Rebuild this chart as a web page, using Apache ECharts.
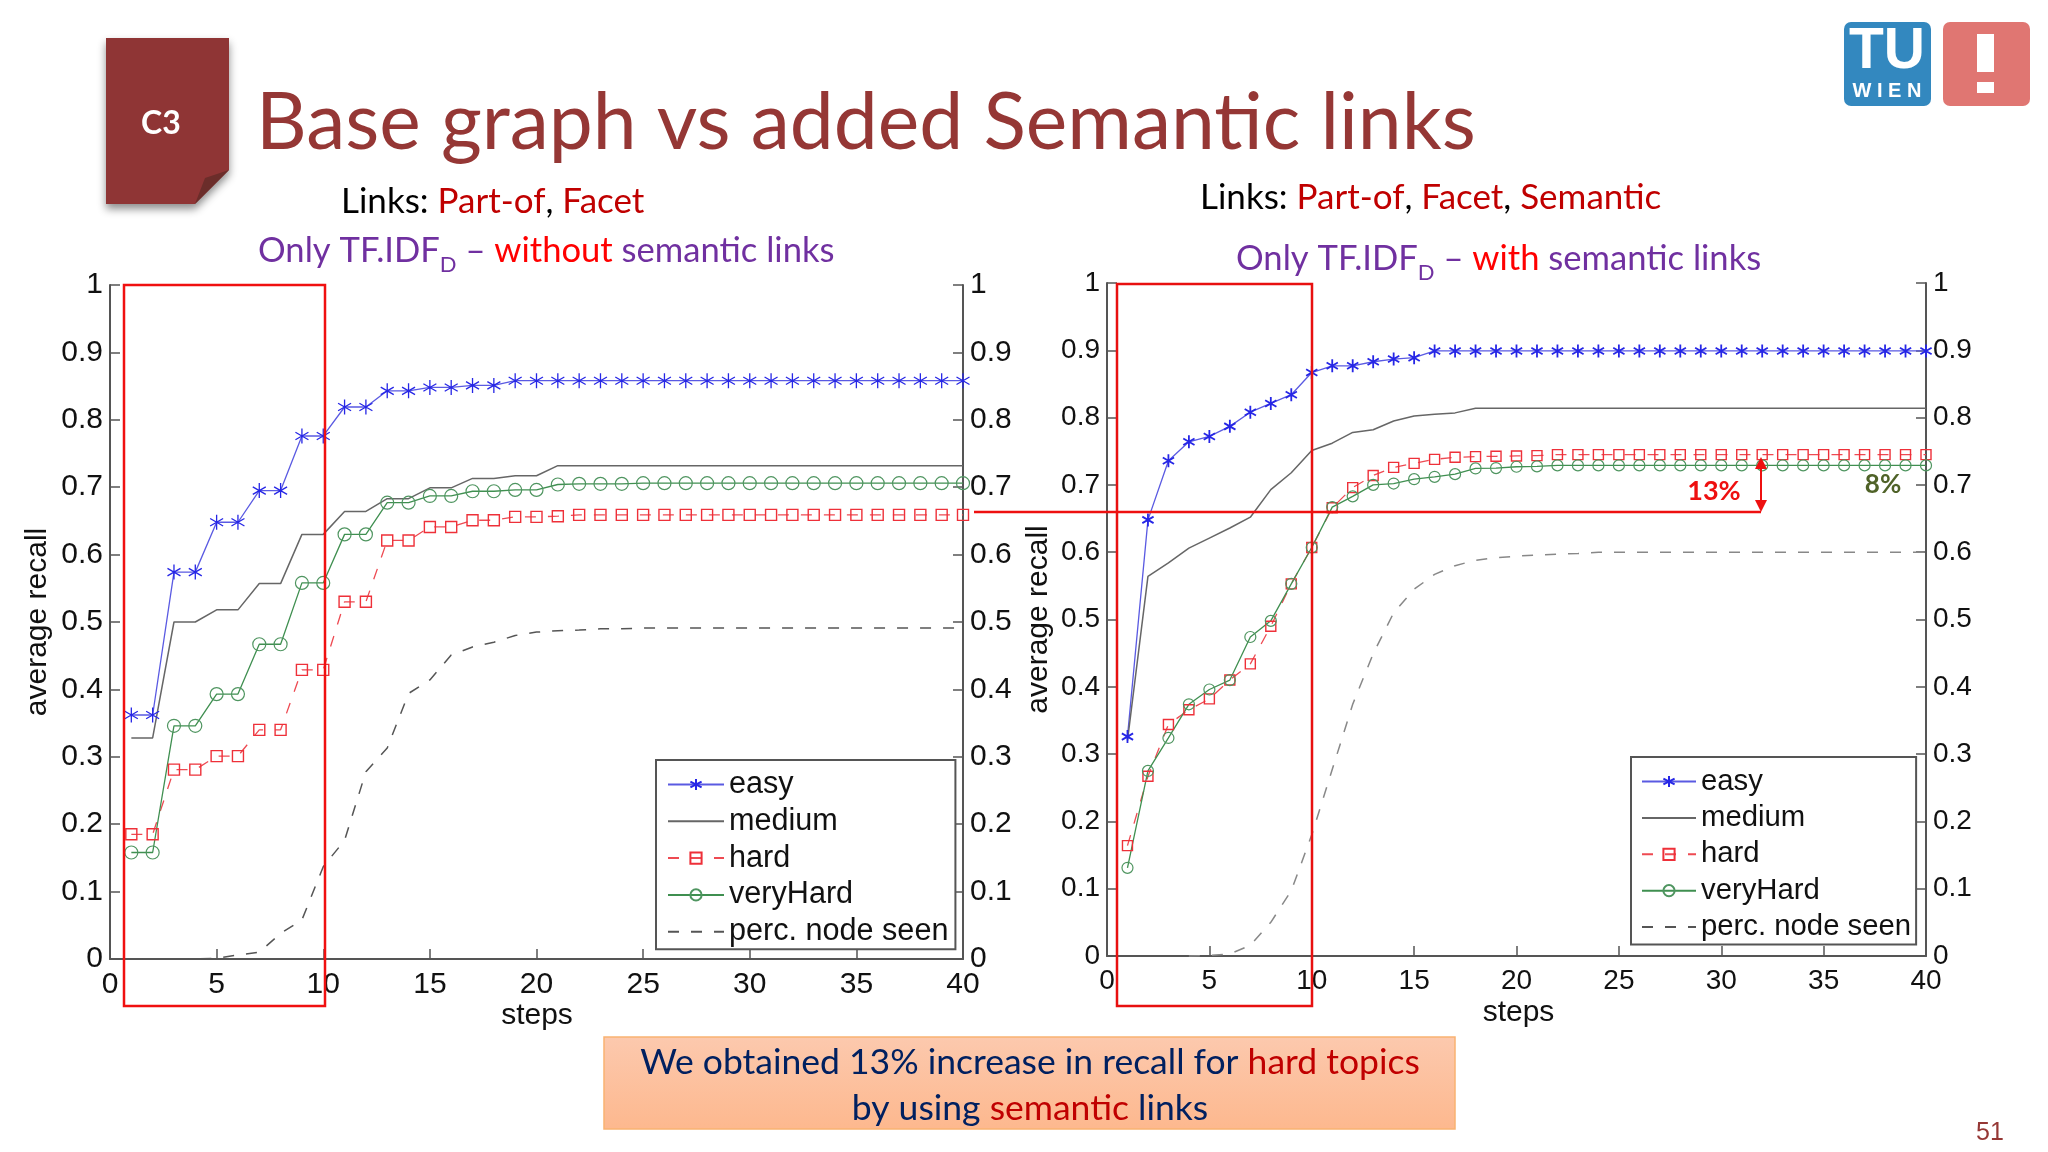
<!DOCTYPE html>
<html>
<head>
<meta charset="UTF-8">
<title>Base graph vs added Semantic links</title>
<style type="text/css">
html,body{margin:0;padding:0;background:#fff;}
#main{width:2048px;height:1152px;}
</style>
<script type="text/javascript" src="https://cdn.jsdelivr.net/npm/echarts@6/dist/echarts.min.js"></script>
</head>
<body>
<div id="main"></div>
<script type="text/javascript">
// steps 1..40
var steps=[1,2,3,4,5,6,7,8,9,10,11,12,13,14,15,16,17,18,19,20,21,22,23,24,25,26,27,28,29,30,31,32,33,34,35,36,37,38,39,40];
var legendNames=['easy','medium','hard','veryHard','perc. node seen'];

// left chart: without semantic links
var leftEasy=[.362,.362,.574,.574,.648,.648,.695,.695,.776,.776,.819,.819,.843,.843,.848,.848,.851,.851,.858,.858,.858,.858,.858,.858,.858,.858,.858,.858,.858,.858,.858,.858,.858,.858,.858,.858,.858,.858,.858,.858];
var leftMedium=[.328,.328,.5,.5,.518,.518,.557,.557,.63,.63,.664,.664,.683,.683,.699,.699,.713,.713,.717,.717,.732,.732,.732,.732,.732,.732,.732,.732,.732,.732,.732,.732,.732,.732,.732,.732,.732,.732,.732,.732];
var leftHard=[.185,.185,.281,.281,.301,.301,.34,.34,.429,.429,.53,.53,.621,.621,.641,.641,.651,.651,.656,.656,.657,.659,.659,.659,.659,.659,.659,.659,.659,.659,.659,.659,.659,.659,.659,.659,.659,.659,.659,.659];
var leftVeryHard=[.158,.158,.346,.346,.393,.393,.467,.467,.558,.558,.63,.63,.677,.677,.687,.687,.694,.694,.696,.696,.704,.705,.705,.705,.706,.706,.706,.706,.706,.706,.706,.706,.706,.706,.706,.706,.706,.706,.706,.706];
var leftPerc=[0,0,0,0,.001,.006,.01,.038,.058,.137,.176,.278,.313,.394,.414,.451,.463,.47,.48,.485,.487,.488,.49,.49,.491,.491,.491,.491,.491,.491,.491,.491,.491,.491,.491,.491,.491,.491,.491,.491];

// right chart: with semantic links
var rightEasy=[.326,.648,.736,.764,.772,.787,.808,.821,.834,.867,.877,.877,.883,.887,.889,.899,.899,.899,.899,.899,.899,.899,.899,.899,.899,.899,.899,.899,.899,.899,.899,.899,.899,.899,.899,.899,.899,.899,.899,.899];
var rightMedium=[.32,.564,.584,.606,.621,.636,.652,.693,.718,.751,.762,.778,.782,.795,.8025,.805,.807,.814,.814,.814,.814,.814,.814,.814,.814,.814,.814,.814,.814,.814,.814,.814,.814,.814,.814,.814,.814,.814,.814,.814];
var rightHard=[.164,.267,.344,.366,.382,.41,.434,.49,.553,.607,.666,.696,.714,.726,.732,.738,.741,.742,.7425,.743,.7435,.745,.745,.745,.745,.745,.745,.745,.745,.745,.745,.745,.745,.745,.745,.745,.745,.745,.745,.745];
var rightVeryHard=[.131,.275,.324,.374,.396,.41,.474,.498,.553,.607,.667,.683,.7,.702,.7085,.712,.716,.7245,.725,.727,.7275,.729,.729,.729,.729,.729,.729,.729,.729,.729,.729,.729,.729,.729,.729,.729,.729,.729,.729,.729];
var rightPerc=[null,null,null,0,.001,.003,.016,.05,.097,.18,.277,.374,.449,.51,.545,.567,.58,.588,.592,.594,.596,.597,.598,.6,.6,.6,.6,.6,.6,.6,.6,.6,.6,.6,.6,.6,.6,.6,.6,.6];

var slideFont='Lato';
var plotFont='"Liberation Sans"';
var axisColor='#555';
var asterisk='path://M12 0L12 24M1.6 6L22.4 18M1.6 18L22.4 6';

function pairs(arr){
	return steps.map(function(s,i){return [s,arr[i]];});
}

function makeSeries(idx,vals,opt){
	function one(name,arr,line,extra){
		var s={
			name:name,type:'line',xAxisIndex:idx,yAxisIndex:idx*2,data:pairs(arr),
			clip:false,showSymbol:true,showAllSymbol:true,connectNulls:false,silent:true,
			lineStyle:line,
			// no visible marker, but the legend would draw a dot for symbol none
			symbol:'circle',symbolSize:1,
			itemStyle:{color:'transparent',borderWidth:0}
		};
		for(var k in extra){s[k]=extra[k];}
		return s;
	}
	return [
		one('easy',vals[0],{color:'#5a5ae2',width:opt.lw},{symbol:asterisk,symbolSize:opt.star,symbolKeepAspect:true,itemStyle:{color:'transparent',borderColor:'#2626e6',borderWidth:opt.starW}}),
		one('medium',vals[1],{color:'#666',width:1.5},{}),
		one('hard',vals[2],{color:'#ee4a52',width:opt.lw,type:[11,12]},{symbol:'rect',symbolSize:opt.rect,itemStyle:{color:'transparent',borderColor:'#ee3039',borderWidth:1.4}}),
		one('veryHard',vals[3],{color:'#3f8f50',width:opt.lw},{symbol:'circle',symbolSize:opt.circle,itemStyle:{color:'transparent',borderColor:'#4f9560',borderWidth:1.2}}),
		one('perc. node seen',vals[4],{color:opt.perc,width:1.5,type:[11,12]},{})
	];
}

function xAxis(idx,nameGap,namePad,size){
	return {
		type:'value',gridIndex:idx,min:0,max:40,interval:5,
		name:'steps',nameLocation:'middle',nameGap:nameGap,nameMoveOverlap:false,
		nameTextStyle:{fontFamily:plotFont,fontSize:30,color:'#111',padding:namePad},
		axisLine:{onZero:false,lineStyle:{color:axisColor,width:2}},
		axisTick:{inside:true,length:10,lineStyle:{color:axisColor,width:1.5}},
		axisLabel:{fontFamily:plotFont,fontSize:size,color:'#111',margin:11},
		splitLine:{show:false}
	};
}
function yAxis(idx,pos,name,gap,size,shift){
	return {
		type:'value',gridIndex:idx,position:pos,min:0,max:1,interval:.1,
		name:name,nameLocation:'middle',nameGap:gap,nameRotate:90,nameMoveOverlap:false,
		nameTextStyle:{fontFamily:plotFont,fontSize:30,color:'#111'},
		axisLine:{show:true,onZero:false,lineStyle:{color:axisColor,width:2}},
		axisTick:{show:true,inside:true,length:10,lineStyle:{color:axisColor,width:1.5}},
		axisLabel:{fontFamily:plotFont,fontSize:size,color:'#111',margin:7,padding:[shift,0,0,0]},
		splitLine:{show:false}
	};
}
function legend(left,top,pad,size,gap,lineW){
	return {
		orient:'vertical',left:left,top:top,padding:pad,data:legendNames,
		itemWidth:lineW,itemHeight:14,itemGap:gap,symbolSize:13,
		backgroundColor:'#fff',borderColor:'#555',borderWidth:2,borderRadius:0,
		textStyle:{fontFamily:plotFont,fontSize:size,color:'#111'},
		selectedMode:false
	};
}

function txt(x,y,text,size,fill,extra){
	var style={x:x,y:y,text:text,fontFamily:slideFont,fontSize:size,fill:fill,verticalAlign:'middle',align:'left'};
	for(var k in extra){style[k]=extra[k];}
	return {type:'text',z:20,silent:true,style:style};
}
var linkRich={
	k:{fontFamily:slideFont,fontSize:35,fill:'#000'},
	r:{fontFamily:slideFont,fontSize:35,fill:'#c00000'}
};
var tfRich={
	p:{fontFamily:slideFont,fontSize:34.6,fill:'#7030a0'},
	s:{fontFamily:slideFont,fontSize:22,fill:'#7030a0',verticalAlign:'bottom',padding:[28,0,0,0]},
	r:{fontFamily:slideFont,fontSize:34.6,fill:'#ff0000'}
};
var boxRich={
	n:{fontFamily:slideFont,fontSize:35.5,fill:'#002060'},
	r:{fontFamily:slideFont,fontSize:35.5,fill:'#c00000'}
};

var decorations=[
	// badge
	{type:'polygon',z:5,silent:true,shape:{points:[[106,38],[229,38],[229,170],[195,204],[106,204]]},style:{fill:'#8f3535',shadowBlur:8,shadowColor:'rgba(0,0,0,.45)',shadowOffsetY:5}},
	{type:'polygon',z:6,silent:true,shape:{points:[[229,170],[205,178],[195,204]]},style:{fill:'#6b2d2a'}},
	txt(141,124,'C3',32,'#fff',{fontWeight:'bold'}),
	// title
	txt(256,124,'Base graph vs added Semantic links',78.6,'#953735'),
	// sub titles
	txt(341,202,'{k|Links: }{r|Part-of}{k|, }{r|Facet}',35,'#000',{rich:linkRich}),
	txt(258,251,'{p|Only TF.IDF}{s|D}{p| – }{r|without}{p| semantic links}',34.6,'#7030a0',{rich:tfRich}),
	txt(1200,198,'{k|Links: }{r|Part-of}{k|, }{r|Facet}{k|, }{r|Semantic}',35,'#000',{rich:linkRich}),
	txt(1236,259,'{p|Only TF.IDF}{s|D}{p| – }{r|with}{p| semantic links}',34.6,'#7030a0',{rich:tfRich}),
	// logos
	{type:'rect',z:5,silent:true,shape:{x:1844,y:22,width:87,height:84,r:7},style:{fill:'#3388bf'}},
	{type:'rect',z:5,silent:true,shape:{x:1943,y:22,width:87,height:84,r:7},style:{fill:'#e07672'}},
	{type:'rect',z:6,silent:true,shape:{x:1977,y:34,width:17,height:38},style:{fill:'#fff'}},
	{type:'rect',z:6,silent:true,shape:{x:1977,y:82,width:17,height:11},style:{fill:'#fff'}},
	txt(1887,52,'TU',57,'#fff',{fontFamily:plotFont,fontWeight:'bold',align:'center'}),
	txt(1887,91,'W I E N',20,'#fff',{fontFamily:plotFont,fontWeight:'bold',align:'center'}),
	// red frames and 13% marker
	{type:'rect',z:15,silent:true,shape:{x:124,y:285,width:201,height:721},style:{fill:'none',stroke:'#f01010',lineWidth:2.5}},
	{type:'rect',z:15,silent:true,shape:{x:1117,y:284,width:195,height:722},style:{fill:'none',stroke:'#e81010',lineWidth:2.5}},
	{type:'line',z:15,silent:true,shape:{x1:974,y1:512,x2:1761,y2:512},style:{stroke:'#ee1010',lineWidth:2.5}},
	{type:'line',z:15,silent:true,shape:{x1:1761,y1:460,x2:1761,y2:510},style:{stroke:'#ee1010',lineWidth:2}},
	{type:'polygon',z:15,silent:true,shape:{points:[[1761,457],[1755,469],[1767,469]]},style:{fill:'#ee1010'}},
	{type:'polygon',z:15,silent:true,shape:{points:[[1761,512],[1755,500],[1767,500]]},style:{fill:'#ee1010'}},
	txt(1714,491,'13%',27,'#ee1010',{fontWeight:'bold',align:'center'}),
	txt(1883,485,'8%',26,'#4f6228',{fontWeight:'bold',align:'center'}),
	// bottom box
	{type:'rect',z:5,silent:true,shape:{x:604,y:1037,width:851,height:92},style:{
		fill:{type:'linear',x:0,y:0,x2:0,y2:1,colorStops:[{offset:0,color:'#fcc9ae'},{offset:1,color:'#fdb88e'}]},
		stroke:'#f9b272',lineWidth:1.5}},
	txt(1030,1063,'{n|We obtained 13% increase in recall for }{r|hard topics}',35.5,'#002060',{rich:boxRich,align:'center'}),
	txt(1030,1109,'{n|by using }{r|semantic}{n| links}',35.5,'#002060',{rich:boxRich,align:'center'}),
	txt(1976,1133,'51',25,'#953735',{fontFamily:plotFont})
];

var mychar=echarts.init(document.getElementById('main'),null,{renderer:'canvas'});
var option={
	animation:false,
	backgroundColor:'#fff',
	grid:[
		{left:110,top:285,width:853,height:674,containLabel:false},
		{left:1107,top:283,width:819,height:673,containLabel:false}
	],
	xAxis:[xAxis(0,42,[0,0,0,1],30),xAxis(1,42,[0,0,0,4],28)],
	yAxis:[
		yAxis(0,'left','average recall',57,30,5),yAxis(0,'right','',0,30,5),
		yAxis(1,'left','average recall',53,28,7),yAxis(1,'right','',0,28,7)
	],
	legend:[legend(656,760,[9,7,2,11],30.6,5.8,56),legend(1631,757,[10,5,3,10],29.3,7.4,54)],
	series:makeSeries(0,[leftEasy,leftMedium,leftHard,leftVeryHard,leftPerc],{lw:1.3,star:15,starW:1.3,rect:11,circle:13,perc:'#555'})
		.concat(makeSeries(1,[rightEasy,rightMedium,rightHard,rightVeryHard,rightPerc],{lw:1.3,star:13,starW:1.8,rect:10,circle:11,perc:'#888'})),
	graphic:{elements:decorations}
};
mychar.setOption(option);
</script>
</body>
</html>
